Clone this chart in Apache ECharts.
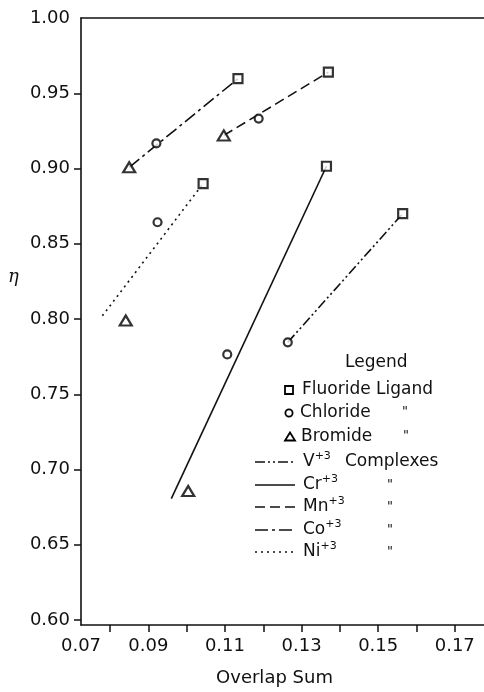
<!DOCTYPE html>
<html>
<head>
<meta charset="utf-8">
<script src="https://cdn.jsdelivr.net/npm/echarts@6/dist/echarts.min.js"></script>
<style>
  html, body { margin: 0; padding: 0; background: #fff; }
  #chart { width: 484px; height: 692px; }
</style>
</head>
<body>
<div id="chart"></div>
<script>
// complexes, in the order V, Cr, Mn, Co, Ni
var ions = ['V', 'Cr', 'Mn', 'Co', 'Ni'];

// measured points [overlap sum, eta]
var fluoride = [[0.1564, 0.870], [0.1365, 0.9015], [0.1370, 0.964], [0.1134, 0.9597], [0.1043, 0.890]];
var chloride = [[0.1264, 0.7845], [0.1106, 0.7765], [0.1188, 0.9332], [0.0921, 0.9167], [0.0924, 0.8643]];
var bromide = [[0.1004, 0.6857], [0.1097, 0.922], [0.0850, 0.9008], [0.0841, 0.799]];

// fitted lines, start and end
var fitV = [[0.1264, 0.7845], [0.1564, 0.870]];
var fitCr = [[0.0960, 0.6807], [0.1365, 0.9015]];
var fitMn = [[0.1097, 0.922], [0.1370, 0.964]];
var fitCo = [[0.0850, 0.9008], [0.1134, 0.9597]];
var fitNi = [[0.0780, 0.8021], [0.1043, 0.890]];

// axis ticks and labels
var xTickValues = [0.08, 0.09, 0.10, 0.11, 0.12, 0.13, 0.14, 0.15, 0.16, 0.17];
var xLabelValues = [0.07, 0.09, 0.11, 0.13, 0.15, 0.17];
var yTickValues = [0.60, 0.65, 0.70, 0.75, 0.80, 0.85, 0.90, 0.95];
var yLabelValues = [0.60, 0.65, 0.70, 0.75, 0.80, 0.85, 0.90, 0.95, 1.00];

var xMin = 0.07242, xMax = 0.17763;
var yMin = 0.5967, yMax = 1.0;

var ink = '#111';
var font = 'DejaVu Sans';

var dashes = {
  V: [10, 3, 2, 3, 2, 3],
  Cr: 'solid',
  Mn: [10, 5],
  Co: [13, 4, 3, 4],
  Ni: [2, 4]
};
var fits = { V: fitV, Cr: fitCr, Mn: fitMn, Co: fitCo, Ni: fitNi };

var chartDom = document.getElementById('chart');
var myChart = echarts.init(chartDom);

var series = [];
ions.forEach(function (ion) {
  series.push({
    name: ion,
    type: 'line',
    data: fits[ion],
    symbol: 'none',
    silent: true,
    z: 2,
    lineStyle: { color: ink, width: 1.6, type: dashes[ion] }
  });
});

var markerStyle = { color: '#fff', borderColor: '#000', borderWidth: 2.2 };
series.push({ name: 'Fluoride', type: 'scatter', data: fluoride, symbol: 'rect', symbolSize: 9, itemStyle: markerStyle, z: 5 });
series.push({ name: 'Chloride', type: 'scatter', data: chloride, symbol: 'circle', symbolSize: 8, itemStyle: markerStyle, z: 5 });
series.push({ name: 'Bromide', type: 'scatter', data: bromide, symbol: 'triangle', symbolSize: [12, 10], itemStyle: markerStyle, z: 5 });

// hand-made legend, as in the original figure
var legendGraphics = [];
var ctx = document.createElement('canvas').getContext('2d');
function txt(str, x, y, size) {
  legendGraphics.push({
    type: 'text', x: x, y: y,
    style: { text: str, fill: ink, font: size + 'px "' + font + '"', verticalAlign: 'middle' }
  });
}
function sup(base, x, y) {
  txt(base, x, y, 17);
  ctx.font = '17px "' + font + '"';
  txt('+3', x + ctx.measureText(base).width, y - 6, 11);
}
function ditto(x, y) {
  txt('"', x, y, 13);
}

txt('Legend', 345, 363, 17);
legendGraphics.push({ type: 'rect', shape: { x: 285, y: 386, width: 8, height: 8 }, style: { fill: '#fff', stroke: '#000', lineWidth: 1.8 } });
txt('Fluoride Ligand', 302, 390, 17);
legendGraphics.push({ type: 'circle', shape: { cx: 289, cy: 413, r: 3.6 }, style: { fill: '#fff', stroke: '#000', lineWidth: 1.8 } });
txt('Chloride', 300, 413, 17);
ditto(402, 412);
legendGraphics.push({ type: 'polygon', shape: { points: [[290, 432.5], [295, 440.5], [285, 440.5]] }, style: { fill: '#fff', stroke: '#000', lineWidth: 1.8 } });
txt('Bromide', 301, 437, 17);
ditto(403, 436);

var rowY = { V: 462, Cr: 485, Mn: 507, Co: 530, Ni: 552 };
ions.forEach(function (ion) {
  var y = rowY[ion];
  legendGraphics.push({
    type: 'line', shape: { x1: 255, y1: y, x2: 295, y2: y },
    style: { stroke: ink, lineWidth: 1.6, lineDash: dashes[ion] === 'solid' ? null : dashes[ion] }
  });
  sup(ion, 303, y);
  if (ion !== 'V') ditto(387, y);
});
txt('Complexes', 345, 462, 17);

// eta label on the y axis
legendGraphics.push({
  type: 'text', x: 8, y: 277,
  style: { text: 'η', fill: ink, font: 'italic 18px "DejaVu Serif"', verticalAlign: 'middle' }
});

var option = {
  animation: false,
  backgroundColor: '#fff',
  // frame is open on the right (cropped in the original)
  grid: { left: 81, right: -1, top: 18, bottom: 64 },
  xAxis: [
    {
      type: 'value',
      min: xMin, max: xMax,
      name: 'Overlap Sum',
      nameLocation: 'middle',
      nameGap: 44,
      nameTextStyle: { color: ink, fontFamily: font, fontSize: 18, padding: [0, 16, 0, 0] },
      splitLine: { show: false },
      axisLine: { lineStyle: { color: ink, width: 1.6 } },
      axisTick: { length: 7, lineStyle: { color: ink, width: 1.5 }, customValues: xTickValues },
      axisLabel: {
        color: ink, fontFamily: font, fontSize: 18, margin: 12,
        customValues: xLabelValues.map(function (v) { return Math.max(v, xMin); }),
        formatter: function (v) { return v.toFixed(2); }
      }
    },
    {
      // top border line only
      type: 'value',
      position: 'top',
      min: xMin, max: xMax,
      splitLine: { show: false },
      axisLine: { lineStyle: { color: ink, width: 1.5 } },
      axisTick: { show: false },
      axisLabel: { show: false }
    }
  ],
  yAxis: {
    type: 'value',
    min: yMin, max: yMax,
    splitLine: { show: false },
    axisLine: { lineStyle: { color: ink, width: 1.6 } },
    axisTick: { length: 7, lineStyle: { color: ink, width: 1.5 }, customValues: yTickValues },
    axisLabel: {
      color: ink, fontFamily: font, fontSize: 18, margin: 11,
      customValues: yLabelValues,
      formatter: function (v) { return v.toFixed(2); }
    }
  },
  graphic: legendGraphics,
  series: series
};

option && myChart.setOption(option);
</script>
</body>
</html>
